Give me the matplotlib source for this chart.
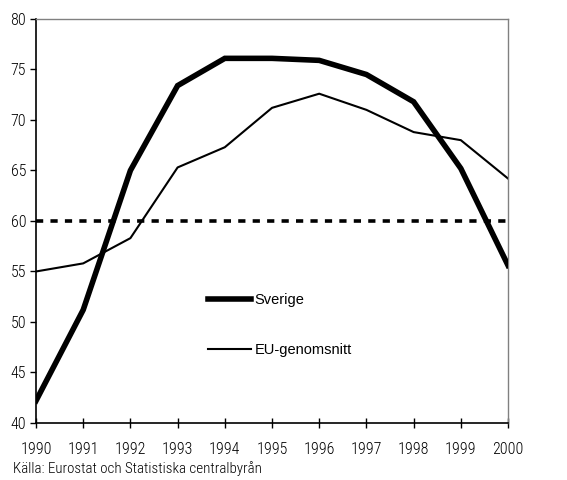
import matplotlib
matplotlib.use("Agg")
import matplotlib.pyplot as plt

# data
years = [1990, 1991, 1992, 1993, 1994, 1995, 1996, 1997, 1998, 1999, 2000]
sverige = [42.2, 51.2, 65.0, 73.4, 76.1, 76.1, 75.9, 74.5, 71.8, 65.2, 55.6]
eu_snitt = [55.0, 55.8, 58.3, 65.3, 67.3, 71.2, 72.6, 71.0, 68.8, 68.0, 64.2]
target_level = 60
y_ticks = [40, 45, 50, 55, 60, 65, 70, 75, 80]
source_text = "Källa: Eurostat och Statistiska centralbyrån"

narrow = ["Roboto Condensed", "DejaVu Sans"]

fig = plt.figure(figsize=(5.67, 4.80), dpi=100)
ax = fig.add_axes([0.0635, 0.1188, 0.8325, 0.8417])

ax.axhline(target_level, color="black", lw=2.6, dashes=(2.0, 2.0), zorder=1)
ax.plot(years, sverige, color="black", lw=4.0, label="Sverige", zorder=3,
        solid_joinstyle="miter")
ax.plot(years, eu_snitt, color="black", lw=1.5, label="EU-genomsnitt", zorder=2)

ax.set_xlim(years[0], years[-1])
ax.set_ylim(y_ticks[0], y_ticks[-1])
ax.set_xticks(years)
ax.set_yticks(y_ticks)
ax.set_xticklabels([str(y) for y in years], fontfamily=narrow, fontsize=11.5,
                   fontweight="light")
ax.set_yticklabels([str(y) for y in y_ticks], fontfamily=narrow, fontsize=11.5,
                   fontweight="light")
ax.tick_params(axis="x", direction="inout", length=7, width=1, pad=10)
ax.tick_params(axis="y", direction="out", length=4, width=1, pad=3)

for side in ("left", "bottom"):
    ax.spines[side].set_color("black")
    ax.spines[side].set_linewidth(1.2)
for side in ("top", "right"):
    ax.spines[side].set_color("#808080")
    ax.spines[side].set_linewidth(1.0)

ax.legend(loc="upper left", bbox_to_anchor=(0.336, 0.355), frameon=False,
          handlelength=2.95, handletextpad=0.25, labelspacing=2.5,
          prop={"family": "Liberation Sans", "size": 10.5})

fig.text(13 / 567, 1 - 469 / 480, source_text, fontfamily=narrow, fontsize=10.8,
         fontweight="light", va="center", ha="left")

fig.savefig("out.png", dpi=100)
